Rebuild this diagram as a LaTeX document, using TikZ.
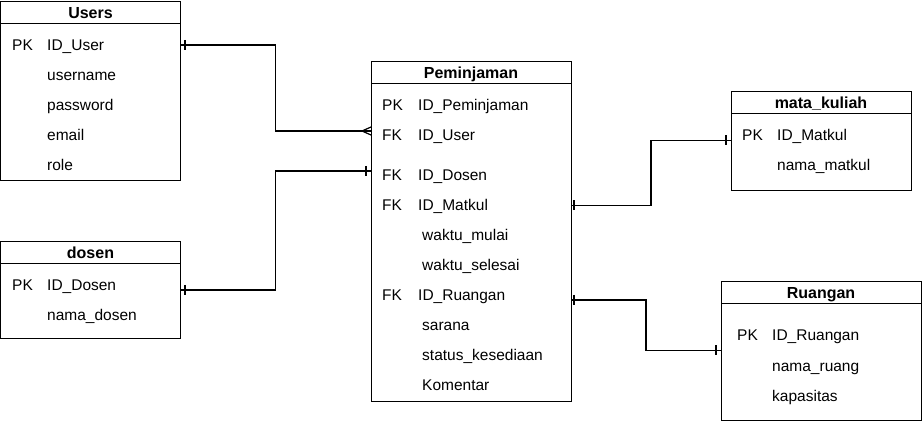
\documentclass[tikz,border=0pt]{standalone}
\usepackage{fontspec}
\setmainfont{Liberation Sans}
\usetikzlibrary{positioning}

\tikzset{
  tbl/.style={draw, line width=0.9pt},
  ttl/.style={anchor=base, inner sep=0pt, font=\fontsize{16}{18}\selectfont\bfseries},
  fld/.style={anchor=base west, inner sep=0pt, font=\fontsize{15.5}{18}\selectfont},
  rel/.style={line width=1.6pt},
  tick/.style={line width=1.4pt},
}

\begin{document}
\begin{tikzpicture}[x=1pt, y=-1pt]
    \useasboundingbox (0,0) rectangle (922,422);

    % Users
    \draw[tbl] (0.5,1) rectangle (180.5,180.5);
    \draw[tbl] (0.5,23) -- (180.5,23);
    \node[ttl] (users) at (90.5,18.5) {Users};
    \node[fld] (users-pk) at (12,51) {PK};
    \node[fld] (users-id) at (47,51) {ID\_User};
    \node[fld] (users-name) at (47,81) {username};
    \node[fld] (users-pass) at (47,111) {password};
    \node[fld] (users-mail) at (47,141) {email};
    \node[fld] (users-role) at (47,171) {role};

    % dosen
    \draw[tbl] (0.5,241) rectangle (180.5,338.5);
    \draw[tbl] (0.5,263) -- (180.5,263);
    \node[ttl] (dosen) at (90.5,258.5) {dosen};
    \node[fld] (dosen-pk) at (12,291) {PK};
    \node[fld] (dosen-id) at (47,291) {ID\_Dosen};
    \node[fld] (dosen-name) at (47,321) {nama\_dosen};

    % Peminjaman
    \draw[tbl] (371,61) rectangle (571,401);
    \draw[tbl] (371,83) -- (571,83);
    \node[ttl] (pem) at (471,78.5) {Peminjaman};
    \node[fld] (pem-pk) at (382,111) {PK};
    \node[fld] (pem-id) at (418,111) {ID\_Peminjaman};
    \node[fld] (pem-fk1) at (382,141) {FK};
    \node[fld] (pem-user) at (418,141) {ID\_User};
    \node[fld] (pem-fk2) at (382,181) {FK};
    \node[fld] (pem-dosen) at (418,181) {ID\_Dosen};
    \node[fld] (pem-fk3) at (382,211) {FK};
    \node[fld] (pem-matkul) at (418,211) {ID\_Matkul};
    \node[fld] (pem-mulai) at (422,241) {waktu\_mulai};
    \node[fld] (pem-selesai) at (422,271) {waktu\_selesai};
    \node[fld] (pem-fk4) at (382,301) {FK};
    \node[fld] (pem-ruang) at (418,301) {ID\_Ruangan};
    \node[fld] (pem-sarana) at (422,331) {sarana};
    \node[fld] (pem-status) at (422,361) {status\_kesediaan};
    \node[fld] (pem-komen) at (422,391) {Komentar};

    % mata_kuliah
    \draw[tbl] (731,91) rectangle (911,190);
    \draw[tbl] (731,113) -- (911,113);
    \node[ttl] (mk) at (821,108.5) {mata\_kuliah};
    \node[fld] (mk-pk) at (742,141) {PK};
    \node[fld] (mk-id) at (777,141) {ID\_Matkul};
    \node[fld] (mk-name) at (777,171) {nama\_matkul};

    % Ruangan
    \draw[tbl] (721,281) rectangle (921,420);
    \draw[tbl] (721,303) -- (921,303);
    \node[ttl] (ruang) at (821,298.5) {Ruangan};
    \node[fld] (ruang-pk) at (737,341) {PK};
    \node[fld] (ruang-id) at (772,341) {ID\_Ruangan};
    \node[fld] (ruang-name) at (772,371) {nama\_ruang};
    \node[fld] (ruang-kap) at (772,401) {kapasitas};

    % ends of the relations
    \coordinate (e-users) at (181,45);
    \coordinate (e-pem-user) at (371,131);
    \coordinate (e-dosen) at (181,290);
    \coordinate (e-pem-dosen) at (371,171);
    \coordinate (e-pem-matkul) at (571,205.5);
    \coordinate (e-mk) at (731,140.5);
    \coordinate (e-pem-ruang) at (571,300);
    \coordinate (e-ruang) at (721,350.5);

    % relations
    \draw[rel] (e-users) -- (275.5,45) |- (e-pem-user);
    \draw[tick] ([xshift=4pt]e-users) ++(0,-5) -- ++(0,10);
    \draw[line width=1.2pt] (e-pem-user) ++(-9,0) -- ++(9,-4)
        (e-pem-user) ++(-9,0) -- ++(9,4);

    \draw[rel] (e-dosen) -- (275.5,290) |- (e-pem-dosen);
    \draw[tick] ([xshift=4pt]e-dosen) ++(0,-5) -- ++(0,10);
    \draw[tick] ([xshift=-5pt]e-pem-dosen) ++(0,-5) -- ++(0,10);

    \draw[rel] (e-pem-matkul) -- (651,205.5) |- (e-mk);
    \draw[tick] ([xshift=3pt]e-pem-matkul) ++(0,-5) -- ++(0,10);
    \draw[tick] ([xshift=-5pt]e-mk) ++(0,-5) -- ++(0,10);

    \draw[rel] (e-pem-ruang) -- (646,300) |- (e-ruang);
    \draw[tick] ([xshift=3pt]e-pem-ruang) ++(0,-5) -- ++(0,10);
    \draw[tick] ([xshift=-5pt]e-ruang) ++(0,-5) -- ++(0,10);
\end{tikzpicture}
\end{document}
